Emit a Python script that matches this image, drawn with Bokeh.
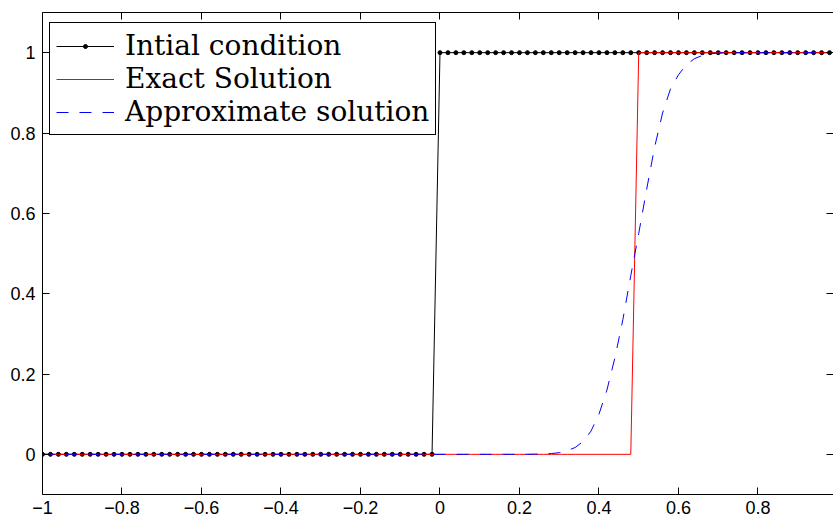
from bokeh.plotting import figure
from bokeh.models import Range1d, FixedTicker, LinearAxis, Legend, LegendItem
from bokeh.embed import file_html
from bokeh.resources import INLINE

# ---- data ----
x = [round(-1 + 0.02 * i, 2) for i in range(100)]          # grid -1 .. 0.98
y_initial = [0.0] * 50 + [1.0] * 50                         # step at x = 0
y_exact = [0.0] * 75 + [1.0] * 25                           # step at x = 0.5
y_approx = [0.0] * 60 + [
    0.0, 0.0, 0.0005, 0.001, 0.002, 0.004, 0.009, 0.017, 0.032, 0.058,
    0.10, 0.16, 0.24, 0.335, 0.445, 0.55, 0.66, 0.765, 0.85, 0.91,
    0.945, 0.97, 0.985, 0.993, 0.997, 0.999,
] + [1.0] * 14

x_ticks = [-1, -0.8, -0.6, -0.4, -0.2, 0, 0.2, 0.4, 0.6, 0.8]
x_tick_labels = ["\u22121", "\u22120.8", "\u22120.6", "\u22120.4", "\u22120.2", "0", "0.2", "0.4", "0.6", "0.8"]
y_ticks = [0, 0.2, 0.4, 0.6, 0.8, 1]
y_tick_labels = ["0", "0.2", "0.4", "0.6", "0.8", "1"]

labels = ["Intial condition", "Exact Solution", "Approximate solution"]

# ---- figure ----
p = figure(width=833, height=520, output_backend="svg", toolbar_location=None,
           x_range=Range1d(-1, 0.99), y_range=Range1d(-0.1, 1.1),
           min_border_left=42, min_border_top=12, min_border_right=0, min_border_bottom=26)
p.outline_line_color = None
p.grid.visible = False
p.background_fill_color = "white"
p.border_fill_color = "white"

p.add_layout(LinearAxis(), "above")
p.add_layout(LinearAxis(), "right")

for ax in p.xaxis:
    ax.ticker = FixedTicker(ticks=x_ticks)
for ax in p.yaxis:
    ax.ticker = FixedTicker(ticks=y_ticks)

for ax in p.axis:
    ax.major_tick_in = 7
    ax.major_tick_out = 0
    ax.minor_tick_line_color = None
    ax.axis_line_color = "black"
    ax.axis_line_width = 1
    ax.major_tick_line_color = "black"
    ax.major_label_text_font = "Liberation Sans"
    ax.major_label_text_font_size = "18px"
    ax.major_label_text_color = "black"

p.below[0].major_label_overrides = dict(zip(x_ticks, x_tick_labels))
p.left[0].major_label_overrides = dict(zip(y_ticks, y_tick_labels))
p.below[0].major_label_standoff = 6
p.left[0].major_label_standoff = 7

top_ax = p.above[0]
top_ax.major_label_overrides = {t: "" for t in x_ticks}
top_ax.major_label_text_font_size = "1px"
top_ax.major_label_standoff = 0
right_ax = p.right[0]
right_ax.major_label_overrides = {t: "" for t in y_ticks}
right_ax.major_label_text_font_size = "1px"
right_ax.major_label_standoff = 0
right_ax.axis_line_color = None

# ---- glyphs ----
l1 = p.line(x, y_initial, line_color="black", line_width=1)
s1 = p.scatter(x, y_initial, size=4, marker="circle", fill_color="black", line_color="black")
l2 = p.line(x, y_exact, line_color="red", line_width=1)
l3 = p.line(x, y_approx, line_color="blue", line_width=1, line_dash="12 11")

legend = Legend(items=[
    LegendItem(label=labels[0], renderers=[l1, s1]),
    LegendItem(label=labels[1], renderers=[l2]),
    LegendItem(label=labels[2], renderers=[l3]),
], location=(7, 359))
legend.label_text_font = "DejaVu Serif"
legend.label_text_font_size = "28px"
legend.label_text_color = "black"
legend.glyph_width = 58
legend.glyph_height = 10
legend.label_height = 32
legend.label_standoff = 11
legend.spacing = 0
legend.padding = 6
legend.border_line_color = "black"
legend.border_line_width = 1
legend.border_line_alpha = 1
legend.background_fill_color = "white"
legend.background_fill_alpha = 1
p.add_layout(legend)

open("out.html", "w").write(file_html(p, INLINE))
